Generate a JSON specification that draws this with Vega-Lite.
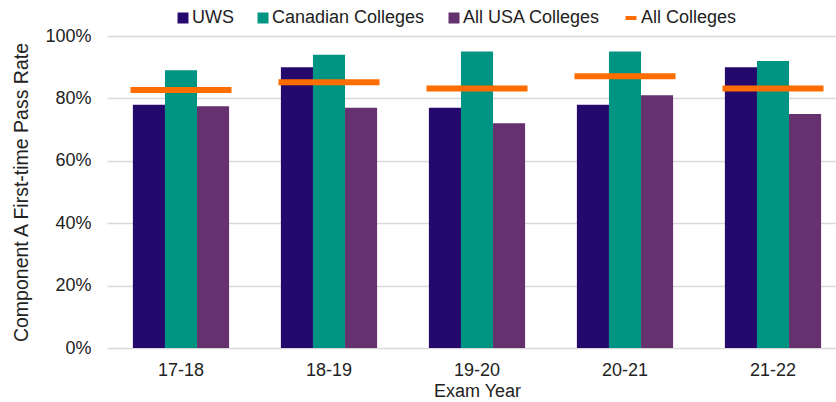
{
  "$schema": "https://vega.github.io/schema/vega-lite/v6.json",
  "width": 727,
  "height": 312,
  "autosize": {"type": "none"},
  "padding": {"left": 107, "top": 36, "right": 2, "bottom": 54},
  "datasets": {
    "bars": [
      {"year": "17-18", "series": "UWS", "rate": 0.78},
      {"year": "17-18", "series": "Canadian Colleges", "rate": 0.89},
      {"year": "17-18", "series": "All USA Colleges", "rate": 0.775},
      {"year": "18-19", "series": "UWS", "rate": 0.90},
      {"year": "18-19", "series": "Canadian Colleges", "rate": 0.94},
      {"year": "18-19", "series": "All USA Colleges", "rate": 0.77},
      {"year": "19-20", "series": "UWS", "rate": 0.77},
      {"year": "19-20", "series": "Canadian Colleges", "rate": 0.95},
      {"year": "19-20", "series": "All USA Colleges", "rate": 0.72},
      {"year": "20-21", "series": "UWS", "rate": 0.78},
      {"year": "20-21", "series": "Canadian Colleges", "rate": 0.95},
      {"year": "20-21", "series": "All USA Colleges", "rate": 0.81},
      {"year": "21-22", "series": "UWS", "rate": 0.90},
      {"year": "21-22", "series": "Canadian Colleges", "rate": 0.92},
      {"year": "21-22", "series": "All USA Colleges", "rate": 0.75}
    ],
    "overall": [
      {"year": "17-18", "series": "All Colleges", "rate": 0.827},
      {"year": "18-19", "series": "All Colleges", "rate": 0.852},
      {"year": "19-20", "series": "All Colleges", "rate": 0.832},
      {"year": "20-21", "series": "All Colleges", "rate": 0.871},
      {"year": "21-22", "series": "All Colleges", "rate": 0.832}
    ]
  },
  "config": {
    "font": "Liberation Sans",
    "view": {"stroke": null},
    "axis": {
      "labelFont": "Liberation Sans",
      "titleFont": "Liberation Sans",
      "labelFontSize": 18,
      "titleFontSize": 18,
      "titleFontWeight": "normal",
      "labelColor": "#222222",
      "titleColor": "#222222",
      "ticks": false
    },
    "legend": {
      "labelFont": "Liberation Sans",
      "labelFontSize": 18,
      "labelColor": "#222222"
    }
  },
  "layer": [
    {
      "data": {"name": "bars"},
      "mark": {"type": "bar"},
      "encoding": {
        "x": {
          "field": "year",
          "type": "nominal",
          "sort": ["17-18", "18-19", "19-20", "20-21", "21-22"],
          "scale": {"range": [0, 740], "paddingInner": 0.35, "paddingOuter": 0.175},
          "axis": {
            "title": "Exam Year",
            "labelAngle": 0,
            "domain": false,
            "grid": false,
            "labelPadding": 13,
            "titlePadding": 3
          }
        },
        "xOffset": {
          "field": "series",
          "type": "nominal",
          "sort": ["UWS", "Canadian Colleges", "All USA Colleges"]
        },
        "y": {
          "field": "rate",
          "type": "quantitative",
          "scale": {"domain": [0, 1]},
          "axis": {
            "title": "Component A First-time Pass Rate",
            "titleFontSize": 19.5,
            "values": [0, 0.2, 0.4, 0.6, 0.8, 1],
            "format": ".0%",
            "domain": false,
            "grid": true,
            "gridColor": "#D9D9D9",
            "gridWidth": 1.5,
            "labelPadding": 16,
            "titlePadding": 13
          }
        },
        "color": {
          "field": "series",
          "type": "nominal",
          "sort": ["UWS", "Canadian Colleges", "All USA Colleges"],
          "scale": {
            "domain": ["UWS", "Canadian Colleges", "All USA Colleges"],
            "range": ["#24086C", "#009483", "#65316F"]
          },
          "legend": {
            "title": null,
            "orient": "none",
            "legendX": 67,
            "legendY": -27,
            "direction": "horizontal",
            "symbolType": "square",
            "symbolSize": 121,
            "symbolStrokeWidth": 0,
            "labelOffset": 0,
            "columnPadding": 20
          }
        }
      }
    },
    {
      "data": {"name": "overall"},
      "mark": {"type": "tick", "size": 101, "thickness": 6, "opacity": 1},
      "encoding": {
        "x": {"field": "year", "type": "nominal", "sort": ["17-18", "18-19", "19-20", "20-21", "21-22"]},
        "y": {"field": "rate", "type": "quantitative"},
        "color": {
          "field": "series",
          "type": "nominal",
          "scale": {"domain": ["All Colleges"], "range": ["#FF6C00"]},
          "legend": {
            "title": null,
            "orient": "none",
            "legendX": 515,
            "legendY": -27,
            "direction": "horizontal",
            "symbolType": "stroke",
            "symbolSize": 121,
            "symbolStrokeWidth": 4,
            "symbolStrokeColor": "#FF6C00",
            "labelOffset": 1
          }
        }
      }
    }
  ],
  "resolve": {"scale": {"color": "independent"}}
}
